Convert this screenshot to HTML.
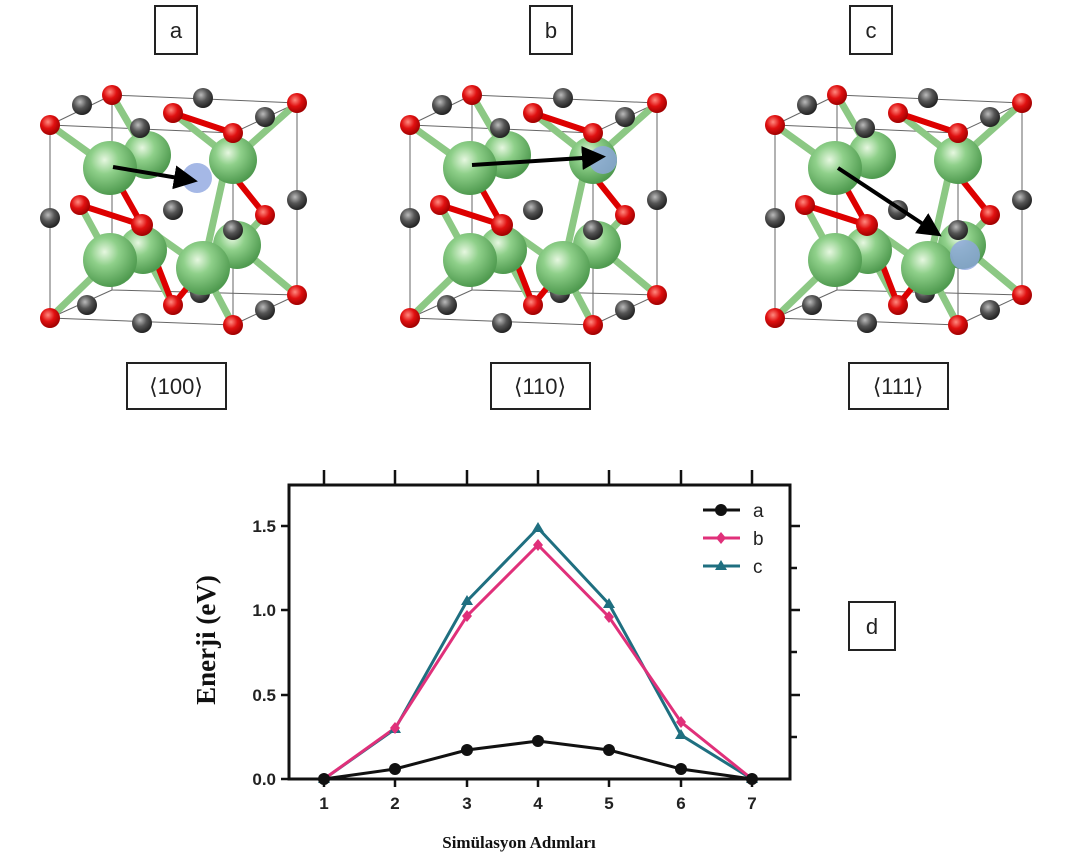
<!DOCTYPE html>
<html><head><meta charset="utf-8"><style>
body{margin:0;background:#fff;width:1068px;height:858px;overflow:hidden}
svg{position:absolute;left:0;top:0}
text{font-family:"Liberation Sans",sans-serif}
</style></head><body>
<svg width="1068" height="858" viewBox="0 0 1068 858">
<defs>
<radialGradient id="g" cx="40%" cy="35%" r="65%"><stop offset="0" stop-color="#e6f7e0"/><stop offset="0.4" stop-color="#8fd08a"/><stop offset="1" stop-color="#4f9a4f"/></radialGradient>
<radialGradient id="r" cx="40%" cy="35%" r="65%"><stop offset="0" stop-color="#ff8a80"/><stop offset="0.5" stop-color="#e01010"/><stop offset="1" stop-color="#a00000"/></radialGradient>
<radialGradient id="k" cx="40%" cy="35%" r="65%"><stop offset="0" stop-color="#bbb"/><stop offset="0.5" stop-color="#555"/><stop offset="1" stop-color="#222"/></radialGradient>
<marker id="ah" markerWidth="6" markerHeight="6" refX="4" refY="3" orient="auto"><path d="M0,0L6,3L0,6z" fill="#000"/></marker>
<g id="cell">
<g stroke="#666" stroke-width="1" fill="none">
<path d="M50,125L233,133L233,325L50,318Z"/><path d="M112,95L297,103L297,295L112,290Z"/>
<path d="M50,125L112,95M233,133L297,103M233,325L297,295M50,318L112,290"/></g>
<g stroke="#8cc884" stroke-width="7">
<path d="M50,125L110,168M112,95L147,155M173,113L233,160M233,133L203,268M80,205L110,260M142,225L203,268M265,215L237,245M50,318L110,260M173,305L143,250M233,325L203,268M297,295L237,245M297,103L233,160"/></g>
<g stroke="#d00" stroke-width="6">
<path d="M173,113L233,133M80,205L142,225M142,225L173,305M265,215L237,180M142,225L110,168M173,305L203,268"/></g>
<circle cx="82" cy="105" r="10" fill="url(#k)"/><circle cx="203" cy="98" r="10" fill="url(#k)"/><circle cx="265" cy="117" r="10" fill="url(#k)"/>
<circle cx="112" cy="95" r="10" fill="url(#r)"/><circle cx="297" cy="103" r="10" fill="url(#r)"/>
<circle cx="147" cy="155" r="24" fill="url(#g)"/><circle cx="143" cy="250" r="24" fill="url(#g)"/><circle cx="237" cy="245" r="24" fill="url(#g)"/><circle cx="233" cy="160" r="24" fill="url(#g)"/>
<circle cx="140" cy="128" r="10" fill="url(#k)"/><circle cx="173" cy="113" r="10" fill="url(#r)"/>
<circle cx="110" cy="168" r="27" fill="url(#g)"/>
<circle cx="173" cy="210" r="10" fill="url(#k)"/><circle cx="80" cy="205" r="10" fill="url(#r)"/>
<circle cx="50" cy="218" r="10" fill="url(#k)"/><circle cx="297" cy="200" r="10" fill="url(#k)"/>
<circle cx="265" cy="215" r="10" fill="url(#r)"/><circle cx="142" cy="225" r="11" fill="url(#r)"/>
<circle cx="87" cy="305" r="10" fill="url(#k)"/><circle cx="200" cy="293" r="10" fill="url(#k)"/><circle cx="265" cy="310" r="10" fill="url(#k)"/>
<circle cx="110" cy="260" r="27" fill="url(#g)"/><circle cx="203" cy="268" r="27" fill="url(#g)"/>
<circle cx="233" cy="230" r="10" fill="url(#k)"/><circle cx="233" cy="133" r="10" fill="url(#r)"/>
<circle cx="50" cy="125" r="10" fill="url(#r)"/><circle cx="50" cy="318" r="10" fill="url(#r)"/>
<circle cx="142" cy="323" r="10" fill="url(#k)"/><circle cx="173" cy="305" r="10" fill="url(#r)"/>
<circle cx="233" cy="325" r="10" fill="url(#r)"/><circle cx="297" cy="295" r="10" fill="url(#r)"/>
</g>
</defs>
<use href="#cell"/>
<circle cx="197" cy="178" r="15" fill="#8fa6e0" opacity="0.8"/>
<line x1="113" y1="167" x2="190" y2="180" stroke="#000" stroke-width="4" marker-end="url(#ah)"/>
<use href="#cell" x="360"/>
<circle cx="603" cy="160" r="14" fill="#8fa6e0" opacity="0.8"/>
<line x1="472" y1="165" x2="598" y2="157" stroke="#000" stroke-width="4" marker-end="url(#ah)"/>
<use href="#cell" x="725"/>
<circle cx="965" cy="255" r="15" fill="#8fa6e0" opacity="0.8"/>
<line x1="838" y1="168" x2="935" y2="232" stroke="#000" stroke-width="4" marker-end="url(#ah)"/>
<g fill="#fff" stroke="#222" stroke-width="2">
<rect x="155" y="6" width="42" height="48"/><rect x="530" y="6" width="42" height="48"/><rect x="850" y="6" width="42" height="48"/>
<rect x="127" y="363" width="99" height="46"/><rect x="491" y="363" width="99" height="46"/><rect x="849" y="363" width="99" height="46"/>
<rect x="849" y="602" width="46" height="48"/></g>
<g font-size="22" text-anchor="middle" fill="#222">
<text x="176" y="38">a</text><text x="551" y="38">b</text><text x="871" y="38">c</text>
<text x="176" y="394">⟨100⟩</text><text x="540" y="394">⟨110⟩</text><text x="898" y="394">⟨111⟩</text>
<text x="872" y="634">d</text></g>
<rect x="289" y="485" width="501" height="294" fill="none" stroke="#111" stroke-width="3"/>
<g stroke="#111" stroke-width="2.5">
<path d="M324,485v-15M395,485v-15M467,485v-15M538,485v-15M609,485v-15M681,485v-15M752,485v-15"/>
<path d="M324,779v8M395,779v8M467,779v8M538,779v8M609,779v8M681,779v8M752,779v8"/>
<path d="M289,526h-8M289,610h-8M289,695h-8M289,779h-8"/>
<path d="M790,526h10M790,568h7M790,610h10M790,652h7M790,695h10M790,737h7"/>
</g>
<g font-size="17" font-weight="bold" fill="#222" text-anchor="end">
<text x="276" y="532">1.5</text><text x="276" y="616">1.0</text><text x="276" y="701">0.5</text><text x="276" y="785">0.0</text></g>
<g font-size="17" font-weight="bold" fill="#222" text-anchor="middle">
<text x="324" y="809">1</text><text x="395" y="809">2</text><text x="467" y="809">3</text><text x="538" y="809">4</text><text x="609" y="809">5</text><text x="681" y="809">6</text><text x="752" y="809">7</text></g>
<text x="519" y="848" style="font-family:'Liberation Serif',serif;font-weight:bold;font-size:17px" text-anchor="middle" fill="#111">Simülasyon Adımları</text>
<text transform="translate(215,640) rotate(-90)" style="font-family:'Liberation Serif',serif;font-weight:bold;font-size:27px" text-anchor="middle" fill="#111">Enerji (eV)</text>
<polyline points="324,779 395,729 467,601 538,528 609,604 681,735 752,779" fill="none" stroke="#1f6f80" stroke-width="3"/>
<polyline points="324,779 395,728 467,616 538,545 609,617 681,722 752,779" fill="none" stroke="#e0307a" stroke-width="3"/>
<polyline points="324,779 395,769 467,750 538,741 609,750 681,769 752,779" fill="none" stroke="#111" stroke-width="3"/>
<g fill="#1f6f80"><path d="M324,773l6,10h-12z M395,723l6,10h-12z M467,595l6,10h-12z M538,522l6,10h-12z M609,598l6,10h-12z M681,729l6,10h-12z M752,773l6,10h-12z"/></g>
<g fill="#e0307a"><path d="M395,722l5,6-5,6-5-6z M467,610l5,6-5,6-5-6z M538,539l5,6-5,6-5-6z M609,611l5,6-5,6-5-6z M681,716l5,6-5,6-5-6z"/></g>
<g fill="#111"><circle cx="324" cy="779" r="6"/><circle cx="395" cy="769" r="6"/><circle cx="467" cy="750" r="6"/><circle cx="538" cy="741" r="6"/><circle cx="609" cy="750" r="6"/><circle cx="681" cy="769" r="6"/><circle cx="752" cy="779" r="6"/></g>
<line x1="703" y1="510" x2="740" y2="510" stroke="#111" stroke-width="3"/><circle cx="721" cy="510" r="6" fill="#111"/>
<line x1="703" y1="538" x2="740" y2="538" stroke="#e0307a" stroke-width="3"/><path d="M721,532l5,6-5,6-5-6z" fill="#e0307a"/>
<line x1="703" y1="566" x2="740" y2="566" stroke="#1f6f80" stroke-width="3"/><path d="M721,560l6,10h-12z" fill="#1f6f80"/>
<g font-size="19" fill="#222"><text x="753" y="517">a</text><text x="753" y="545">b</text><text x="753" y="573">c</text></g>
</svg>
</body></html>
